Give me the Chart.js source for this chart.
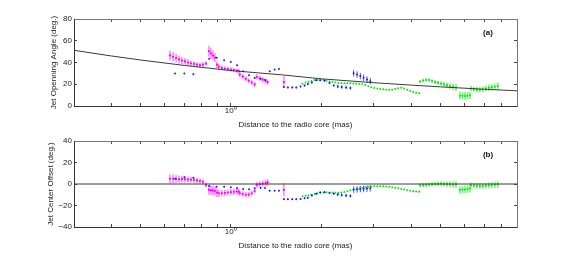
<!DOCTYPE html>
<html>
<head>
<meta charset="utf-8">
<script src="https://cdn.jsdelivr.net/npm/chart.js@4.4.0/dist/chart.umd.min.js"></script>
<style>
  html, body { margin: 0; padding: 0; background: #fff; }
  #wrap { position: relative; width: 572px; height: 257px; }
  #wrap canvas { position: absolute; left: 0; }
</style>
</head>
<body>
<div id="wrap">
  <canvas id="angleChart" width="572" height="130" style="top:0"></canvas>
  <canvas id="offsetChart" width="572" height="127" style="top:130px"></canvas>
</div>
<script>
// x axis (distance to core, mas)
const distTicks = [0.3, 0.4, 0.5, 0.6, 0.7, 0.8, 0.9, 1, 2, 3, 4, 5, 6, 7, 8, 9];
const angleTicks = [0, 20, 40, 60, 80];
const offsetTicks = [-40, -20, 0, 20, 40];

// power-law fit in panel (a), zero line in panel (b)
const fitDist = [0.3, 0.4, 0.5, 0.7, 1, 1.5, 2, 3, 4, 5, 7, 9];
const fitAngle = [51.2, 46.0, 42.3, 37.3, 32.6, 28.5, 25.0, 21.4, 19.2, 17.6, 15.4, 14.0];
const zeroDist = [0.3, 9];
const zeroOffset = [0, 0];

// magenta series
const pinkDist = [
  0.627, 0.642, 0.657, 0.672, 0.687, 0.703, 0.720, 0.736, 0.754, 0.771, 0.789, 0.807, 0.826,
  0.845, 0.858, 0.871, 0.885, 0.899, 0.912, 0.933, 0.955, 0.977, 1.000, 1.023, 1.047, 1.063,
  1.071, 1.096, 1.122, 1.148, 1.174, 1.201,
  1.220, 1.248, 1.277, 1.307, 1.327,
  1.503,
];
const pinkAngle = [
  46.5, 45.2, 44.0, 42.8, 41.8, 41.0, 40.0, 39.2, 38.6, 38.0, 37.6, 38.0, 39.0,
  50.5, 48.5, 46.5, 44.5, 38.0, 36.0, 35.0, 34.5, 34.0, 33.5, 33.0, 32.5, 32.0,
  28.8, 27.0, 25.0, 23.2, 21.5, 19.8,
  26.8, 25.5, 24.2, 23.0, 22.0,
  22.0,
];
const pinkAngleErr = [
  4.5, 4.3, 4.0, 3.7, 3.4, 3.1, 2.9, 2.7, 2.5, 2.3, 2.2, 2.2, 2.2,
  5.0, 5.0, 4.5, 4.0, 3.0, 2.5, 2.2, 2.0, 2.0, 2.0, 2.0, 2.0, 2.0,
  2.5, 2.5, 2.5, 2.5, 2.5, 2.5,
  2.5, 2.5, 2.5, 2.5, 2.5,
  5.5,
];
const pinkOffset = [
  4.8, 4.8, 4.7, 4.6, 4.5, 4.4, 4.2, 4.0, 3.7, 3.3, 2.8, 2.0, -1.0,
  -5.5, -6.0, -6.0, -6.5, -8.0, -8.6, -8.6, -8.3, -8.0, -7.6, -7.3, -7.0, -7.0,
  -8.6, -9.3, -10.0, -9.8, -8.6, -6.5,
  -0.9, -0.3, 0.3, 0.9, 1.5,
  -5.5,
];
const pinkOffsetErr = [
  4.0, 3.8, 3.6, 3.4, 3.2, 3.0, 2.8, 2.6, 2.5, 2.4, 2.3, 2.3, 2.3,
  4.5, 4.5, 4.5, 4.5, 4.0, 3.5, 3.0, 3.0, 3.0, 3.0, 3.0, 3.0, 3.0,
  2.5, 2.5, 2.5, 2.5, 2.5, 2.5,
  3.0, 3.0, 3.0, 3.0, 3.0,
  6.0,
];

// blue series
const blueDist = [
  0.652, 0.700, 0.750,
  0.847, 0.897, 0.950, 1.000, 1.049, 1.099, 1.150, 1.201, 1.258, 1.300, 1.348, 1.400, 1.447,
  1.503, 1.550, 1.603, 1.653, 1.708, 1.762, 1.806, 1.863, 1.926, 1.986, 2.053, 2.133, 2.204,
  2.273, 2.343, 2.423, 2.504,
  2.568, 2.636, 2.703, 2.772, 2.845, 2.918,
];
const blueAngle = [
  30.0, 30.0, 29.1,
  43.4, 44.3, 42.1, 40.5, 37.5, 31.9, 28.2, 25.8, 25.0, 24.0, 31.9, 33.5, 34.1,
  17.4, 17.1, 17.1, 17.1, 18.0, 18.9, 20.2, 21.7, 23.6, 23.6, 23.3, 21.1, 18.9,
  18.0, 17.4, 17.1, 16.5,
  30.2, 29.0, 27.5, 26.0, 24.3, 22.8,
];
const blueAngleErr = [
  0, 0, 0,
  0, 0, 0, 0, 0, 0, 0, 0, 0, 0, 0, 0, 0,
  0.8, 0.8, 0.8, 0.8, 0.8, 0.8, 0.8, 0.8, 0.8, 0.8, 0.8, 0.8, 0.8,
  1.5, 1.5, 1.5, 1.5,
  3.0, 3.0, 3.0, 3.0, 3.0, 3.0,
];
const blueOffset = [
  4.9, 6.2, 5.8,
  -1.8, -2.5, -2.5, -3.1, -3.7, -4.6, -4.9, -4.0, -3.7, -3.7, -6.2, -6.2, -6.2,
  -14.1, -14.1, -14.1, -14.1, -13.9, -13.2, -12.7, -10.8, -9.0, -8.0, -7.7, -8.3, -9.0,
  -9.8, -10.3, -10.8, -11.1,
  -5.2, -5.0, -4.8, -4.6, -4.3, -4.0,
];
const blueOffsetErr = [
  0, 0, 0,
  0, 0, 0, 0, 0, 0, 0, 0, 0, 0, 0, 0, 0,
  0.8, 0.8, 0.8, 0.8, 0.8, 0.8, 0.8, 0.8, 0.8, 0.8, 0.8, 0.8, 0.8,
  1.5, 1.5, 1.5, 1.5,
  3.0, 3.0, 3.0, 3.0, 3.0, 3.0,
];

// green series
const greenDist = [
  1.735, 1.775, 1.816, 1.858, 1.901, 1.945, 1.991, 2.037, 2.084, 2.133,
  2.182, 2.233, 2.285, 2.338, 2.392, 2.448, 2.504, 2.562, 2.622, 2.683,
  2.745, 2.809, 2.874, 2.941, 3.009, 3.079, 3.150, 3.224, 3.298, 3.375,
  3.453, 3.534, 3.616, 3.700, 3.786, 3.873, 3.963, 4.055, 4.149, 4.246,
  4.278, 4.377, 4.479, 4.582, 4.689, 4.798, 4.909, 5.023, 5.140, 5.259, 5.381, 5.507, 5.634,
  5.808, 5.921, 6.035, 6.152, 6.271,
  6.319, 6.465, 6.615, 6.768, 6.925, 7.086, 7.250, 7.418, 7.590, 7.767,
];
const greenAngle = [
  20.5, 21.5, 22.3, 23.0, 23.8, 24.0, 24.0, 23.8, 23.3, 22.5,
  22.0, 21.5, 21.2, 21.0, 21.0, 21.0, 21.0, 20.8, 20.5, 20.2,
  20.0, 19.2, 18.2, 17.2, 16.6, 16.0, 15.6, 15.3, 15.0, 14.6,
  15.0, 15.6, 16.4, 16.8, 16.2, 15.0, 13.8, 12.8, 12.2, 11.8,
  22.6, 23.5, 24.0, 23.8, 23.0, 22.0, 21.3, 20.6, 19.8, 19.0, 18.3, 17.6, 17.0,
  9.5, 9.4, 9.3, 9.4, 9.6,
  16.0, 15.5, 15.0, 14.9, 15.4, 16.0, 16.7, 17.2, 17.8, 18.5,
];
const greenAngleErr = [
  0, 0, 0, 0, 0, 0, 0, 0, 0, 0,
  0, 0, 0, 0, 0, 0, 0, 0, 0, 0,
  0, 0, 0, 0, 0, 0, 0, 0, 0, 0,
  0, 0, 0, 0, 0, 0, 0, 0, 0, 0,
  1.5, 1.5, 1.5, 1.5, 1.6, 1.7, 1.8, 2.0, 2.2, 2.4, 2.7, 3.0, 3.3,
  3.5, 3.5, 3.5, 3.5, 3.5,
  2.5, 2.5, 2.5, 2.5, 2.6, 2.7, 2.8, 2.9, 3.0, 3.2,
];
const greenOffset = [
  -11.5, -11.0, -10.5, -10.0, -9.3, -8.6, -8.0, -7.8, -7.7, -7.8,
  -8.0, -8.2, -8.2, -8.0, -7.5, -6.8, -5.8, -5.1, -4.5, -4.0,
  -3.5, -3.0, -2.6, -2.3, -2.1, -2.0, -2.0, -2.1, -2.3, -2.5,
  -3.0, -3.5, -4.0, -4.6, -5.2, -5.8, -6.3, -6.7, -7.0, -7.1,
  -1.2, -1.0, -0.8, -0.5, -0.3, 0.0, 0.2, 0.2, 0.0, -0.2, -0.3, -0.4, -0.5,
  -5.5, -5.3, -5.0, -4.7, -4.3,
  -1.2, -1.5, -1.8, -1.9, -1.8, -1.5, -1.2, -0.9, -0.6, -0.3,
];
const greenOffsetErr = [
  0, 0, 0, 0, 0, 0, 0, 0, 0, 0,
  0, 0, 0, 0, 0, 0, 0, 0, 0, 0,
  0, 0, 0, 0, 0, 0, 0, 0, 0, 0,
  0, 0, 0, 0, 0, 0, 0, 0, 0, 0,
  2.0, 2.0, 2.0, 2.0, 2.0, 2.1, 2.2, 2.3, 2.4, 2.6, 2.8, 3.0, 3.2,
  3.5, 3.5, 3.5, 3.5, 3.5,
  2.5, 2.5, 2.5, 2.5, 2.6, 2.7, 2.8, 2.9, 3.0, 3.2,
];

Chart.defaults.font.family = '"Liberation Sans", Arial, Helvetica, sans-serif';
Chart.defaults.color = "#222";

const toPoints = (xs, ys) => xs.map((x, i) => ({ x, y: ys[i] }));

// vertical error bars, drawn under the dots
const errorBarPlugin = {
  id: "errorBars",
  beforeDatasetsDraw(chart) {
    const ctx = chart.ctx;
    const yScale = chart.scales.y;
    chart.data.datasets.forEach((ds, i) => {
      if (!ds.errors) return;
      const meta = chart.getDatasetMeta(i);
      ctx.save();
      ctx.strokeStyle = ds.errorColor;
      ctx.lineWidth = ds.errorWidth;
      meta.data.forEach((pt, j) => {
        const e = ds.errors[j];
        if (!e) return;
        const v = ds.data[j].y;
        ctx.beginPath();
        ctx.moveTo(pt.x, yScale.getPixelForValue(v + e));
        ctx.lineTo(pt.x, yScale.getPixelForValue(v - e));
        ctx.stroke();
      });
      ctx.restore();
    });
  },
};

// "(a)" / "(b)" tag inside the axes box
const panelLabelPlugin = {
  id: "panelLabel",
  afterDraw(chart, args, opts) {
    const { ctx, chartArea } = chart;
    ctx.save();
    ctx.font = 'bold 8px "Liberation Sans", Arial, sans-serif';
    ctx.fillStyle = "#111";
    ctx.textAlign = "center";
    ctx.textBaseline = "middle";
    ctx.fillText(opts.text, chartArea.right - 29, chartArea.top + 14);
    ctx.restore();
  },
};

function makePanel(canvasId, cfg) {
  const grid = {
    drawOnChartArea: false,
    drawTicks: true,
    tickLength: -3,
    tickColor: "#444",
    tickWidth: 1,
  };
  const tickFont = { size: 8, lineHeight: 1 };
  const titleFont = { size: 8, lineHeight: 1 };

  return new Chart(document.getElementById(canvasId), {
    type: "scatter",
    data: {
      datasets: [
        {
          label: "line",
          data: toPoints(cfg.lineX, cfg.lineY),
          showLine: true,
          borderColor: "#3a3a3a",
          borderWidth: 1,
          pointRadius: 0,
        },
        {
          label: "blue",
          data: toPoints(blueDist, cfg.blueY),
          errors: cfg.blueErr,
          errorColor: "rgba(40,40,255,0.8)",
          errorWidth: 1,
          pointRadius: 1.0,
          borderWidth: 0,
          backgroundColor: "#1a1aff",
        },
        {
          label: "green",
          data: toPoints(greenDist, cfg.greenY),
          errors: cfg.greenErr,
          errorColor: "rgb(125,250,125)",
          errorWidth: 1.7,
          pointRadius: 1.0,
          borderWidth: 0,
          backgroundColor: "#00e800",
        },
        {
          label: "magenta",
          data: toPoints(pinkDist, cfg.pinkY),
          errors: cfg.pinkErr,
          errorColor: "rgb(255,150,255)",
          errorWidth: 1.8,
          pointRadius: 1.1,
          borderWidth: 0,
          backgroundColor: "#ff00ff",
        },
      ],
    },
    options: {
      responsive: false,
      animation: false,
      events: [],
      layout: { padding: cfg.padding },
      plugins: {
        legend: { display: false },
        tooltip: { enabled: false },
        panelLabel: { text: cfg.tag },
      },
      scales: {
        x: {
          type: "logarithmic",
          position: "bottom",
          min: 0.3,
          max: 9,
          afterBuildTicks: (s) => { s.ticks = distTicks.map((v) => ({ value: v })); },
          afterFit: (s) => { s.height = cfg.xHeight; },
          grid,
          border: { color: "#333", width: 1 },
          ticks: {
            autoSkip: false,
            maxRotation: 0,
            padding: 4,
            font: tickFont,
            callback: (v) => (v === 1 ? "10\u2070" : ""),
          },
          title: { display: true, text: "Distance to the radio core (mas)", font: titleFont, padding: 0 },
        },
        x2: {
          type: "logarithmic",
          position: "top",
          min: 0.3,
          max: 9,
          afterBuildTicks: (s) => { s.ticks = distTicks.map((v) => ({ value: v })); },
          afterFit: (s) => { s.height = cfg.topHeight; },
          grid,
          border: { color: "#777", width: 1 },
          ticks: { display: false },
        },
        y: {
          type: "linear",
          position: "left",
          min: cfg.yTicks[0],
          max: cfg.yTicks[cfg.yTicks.length - 1],
          afterBuildTicks: (s) => { s.ticks = cfg.yTicks.map((v) => ({ value: v })); },
          afterFit: (s) => { s.width = cfg.yWidth; },
          grid,
          border: { color: "#333", width: 1 },
          ticks: {
            padding: 5,
            font: tickFont,
            callback: (v) => (v < 0 ? "\u2212" + Math.abs(v) : String(v)),
          },
          title: { display: true, text: cfg.yTitle, font: titleFont, padding: 0 },
        },
        y2: {
          type: "linear",
          position: "right",
          min: cfg.yTicks[0],
          max: cfg.yTicks[cfg.yTicks.length - 1],
          afterBuildTicks: (s) => { s.ticks = cfg.yTicks.map((v) => ({ value: v })); },
          afterFit: (s) => { s.width = 55; },
          grid,
          border: { color: "#777", width: 1 },
          ticks: { display: false },
        },
      },
    },
    plugins: [errorBarPlugin, panelLabelPlugin],
  });
}

// panel (a): opening angle
makePanel("angleChart", {
  tag: "(a)",
  yTitle: "Jet Openning Angle (deg.)",
  yTicks: angleTicks,
  lineX: fitDist,
  lineY: fitAngle,
  pinkY: pinkAngle,
  pinkErr: pinkAngleErr,
  blueY: blueAngle,
  blueErr: blueAngleErr,
  greenY: greenAngle,
  greenErr: greenAngleErr,
  padding: { left: 50, right: 0, top: 0, bottom: 1 },
  xHeight: 23,
  topHeight: 19,
  yWidth: 24,
});

// panel (b): center offset
makePanel("offsetChart", {
  tag: "(b)",
  yTitle: "Jet Center Offset (deg.)",
  yTicks: offsetTicks,
  lineX: zeroDist,
  lineY: zeroOffset,
  pinkY: pinkOffset,
  pinkErr: pinkOffsetErr,
  blueY: blueOffset,
  blueErr: blueOffsetErr,
  greenY: greenOffset,
  greenErr: greenOffsetErr,
  padding: { left: 47, right: 0, top: 0, bottom: 7 },
  xHeight: 23,
  topHeight: 11,
  yWidth: 27,
});
</script>
</body>
</html>
